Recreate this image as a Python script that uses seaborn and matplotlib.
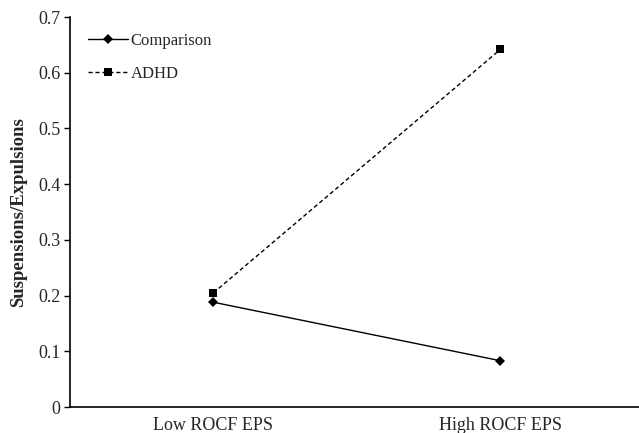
import numpy as np
import pandas as pd
import seaborn as sns
import matplotlib.pyplot as plt

sns.set_style("white")
plt.rcParams['font.family'] = ['Liberation Serif', 'DejaVu Serif']

# data
conditions = ["Low ROCF EPS", "High ROCF EPS"]
comparison = [0.188, 0.083]
adhd = [0.205, 0.642]
groups = ["Comparison", "ADHD"]

df = pd.DataFrame({
    "condition": conditions * 2,
    "pos": [0, 1] * 2,
    "rate": comparison + adhd,
    "group": ["Comparison"] * 2 + ["ADHD"] * 2,
})

fig = plt.figure(figsize=(6.39, 4.33), dpi=100)
# axes run a little past the right edge, like the cropped original
ax = fig.add_axes([70 / 639, (433 - 407) / 433, 574 / 639, 390 / 433])

sns.lineplot(data=df, x="pos", y="rate", style="group", style_order=groups,
             markers={"Comparison": "D", "ADHD": "s"},
             dashes={"Comparison": "", "ADHD": (3, 2)},
             color="black", linewidth=1, markersize=6, markeredgewidth=0,
             ax=ax)
for line in ax.lines:
    if line.get_marker() == "D":
        line.set_markersize(5)

ax.set_xlim(-0.5, 1.5)
ax.set_ylim(0, 0.7)
ax.set_yticks(np.arange(0, 0.71, 0.1))
ax.set_yticklabels(["0"] + [f"{v:.1f}" for v in np.arange(0.1, 0.71, 0.1)])
ax.set_xticks([0, 1])
ax.set_xticklabels(conditions)
ax.set_xticks([-0.5, 0.5, 1.5], minor=True)
ax.tick_params(axis="x", which="major", length=0, pad=7, labelsize=13)
ax.tick_params(axis="x", which="minor", length=4, width=1, direction="out", color="black")
ax.tick_params(axis="y", length=4, width=1, direction="out", color="black", labelsize=13, pad=3,
               left=True)
ax.set_xlabel("")
ax.set_ylabel("Suspensions/Expulsions", fontsize=13.5, fontweight="bold", labelpad=8)

for side in ["top", "right"]:
    ax.spines[side].set_visible(False)
for side in ["left", "bottom"]:
    ax.spines[side].set_color("black")
    ax.spines[side].set_linewidth(1.2)

ax.legend(loc="upper left", frameon=False, fontsize=12, handlelength=2.4,
          labelspacing=1.0, handletextpad=0.15, bbox_to_anchor=(0.005, 0.997))

fig.savefig("out.png", dpi=100)
